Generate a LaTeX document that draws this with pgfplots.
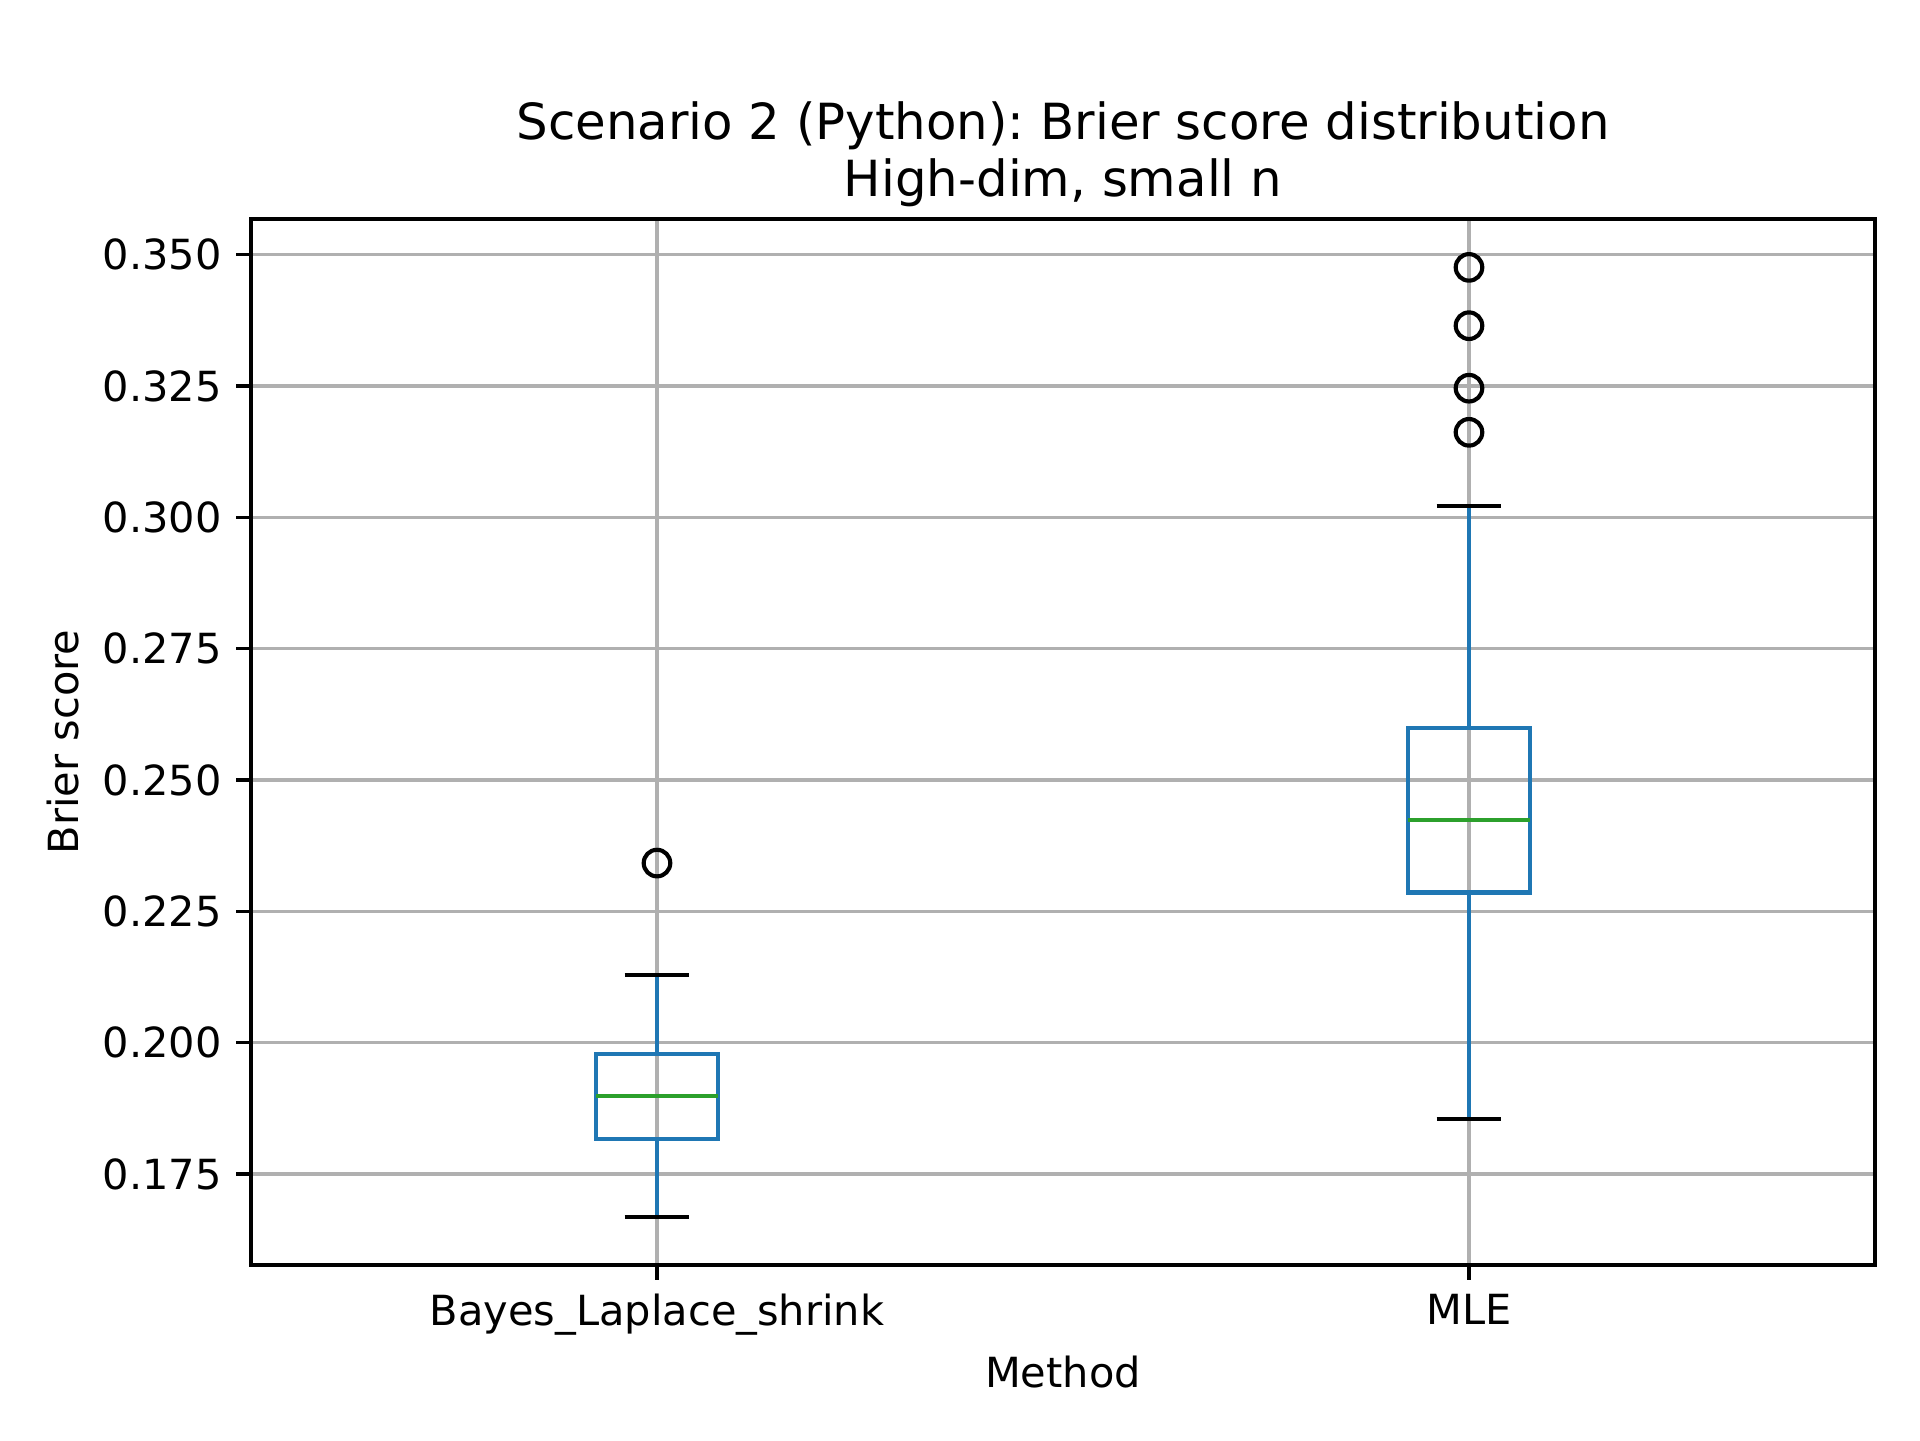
\documentclass[border=0pt]{standalone}
\usepackage{fontspec}
\setmainfont{DejaVu Sans}
\usepackage{pgfplots}
\pgfplotsset{compat=1.18}
\usepgfplotslibrary{statistics}

\definecolor{mplblue}{HTML}{1F77B4}
\definecolor{mplgreen}{HTML}{2CA02C}
\definecolor{gridgray}{HTML}{B0B0B0}
\frenchspacing

\begin{document}
\begin{tikzpicture}
% 1920x1440 px at 300 dpi, 1 px = 0.24bp
\useasboundingbox (-60.24bp,-42bp) rectangle ++(460.8bp,345.6bp);
\begin{axis}[
    at={(0,0)}, anchor=south west,
    scale only axis,
    width=389.76bp, height=251.04bp,
    xmin=0.5, xmax=2.5,
    ymin=0.15769, ymax=0.35681,
    xtick={1,2},
    xticklabels={Bayes\_Laplace\_shrink, MLE},
    ytick={0.175,0.2,0.225,0.25,0.275,0.3,0.325,0.35},
    yticklabel style={/pgf/number format/.cd, fixed, fixed zerofill, precision=3},
    /pgf/number format/assume math mode=true,
    grid=major,
    major grid style={gridgray, line width=0.8pt},
    axis line style={line width=0.8pt},
    tick align=outside, tick pos=left,
    major tick length=3.5pt,
    every tick/.style={black, line width=0.8pt},
    tick label style={font=\fontsize{10}{12}\selectfont},
    label style={font=\fontsize{10}{12}\selectfont},
    xlabel={Method},
    xlabel style={yshift=2pt},
    ylabel={Brier score},
    ylabel style={yshift=-1.2pt},
    title={Scenario 2 (Python): Brier score distribution\\High-dim, small n},
    title style={font=\fontsize{12}{13.5}\selectfont, align=center, yshift=-6.5pt},
    boxplot/draw direction=y,
    boxplot/box extend=0.15,
    boxplot/whisker extend=0.08,
    boxplot/every box/.style={draw=mplblue, line width=1pt},
    boxplot/every median/.style={mplgreen, line width=1pt},
    boxplot/draw/lower whisker/.code={%
        \draw[mplblue, line width=1pt]
            (boxplot box cs:\pgfplotsboxplotvalue{lower quartile},0.5) --
            (boxplot box cs:\pgfplotsboxplotvalue{lower whisker},0.5);
        \draw[black, line width=1pt]
            (boxplot whisker cs:\pgfplotsboxplotvalue{lower whisker},0) --
            (boxplot whisker cs:\pgfplotsboxplotvalue{lower whisker},1);
    },
    boxplot/draw/upper whisker/.code={%
        \draw[mplblue, line width=1pt]
            (boxplot box cs:\pgfplotsboxplotvalue{upper quartile},0.5) --
            (boxplot box cs:\pgfplotsboxplotvalue{upper whisker},0.5);
        \draw[black, line width=1pt]
            (boxplot whisker cs:\pgfplotsboxplotvalue{upper whisker},0) --
            (boxplot whisker cs:\pgfplotsboxplotvalue{upper whisker},1);
    },
]

% Bayes_Laplace_shrink
\addplot[
    mplblue, line width=1pt,
    mark=o, mark size=3.2pt, mark options={black, line width=1pt},
    boxplot prepared={
        draw position=1,
        lower whisker=0.1669,
        lower quartile=0.1816,
        median=0.1899,
        upper quartile=0.1978,
        upper whisker=0.2129
    },
] coordinates {(1,0.2342)};

% MLE
\addplot[
    mplblue, line width=1pt,
    mark=o, mark size=3.2pt, mark options={black, line width=1pt},
    boxplot prepared={
        draw position=2,
        lower whisker=0.1855,
        lower quartile=0.2286,
        median=0.2424,
        upper quartile=0.2599,
        upper whisker=0.3022
    },
] coordinates {(2,0.3162) (2,0.3246) (2,0.3365) (2,0.3476)};

\end{axis}
\end{tikzpicture}
\end{document}
